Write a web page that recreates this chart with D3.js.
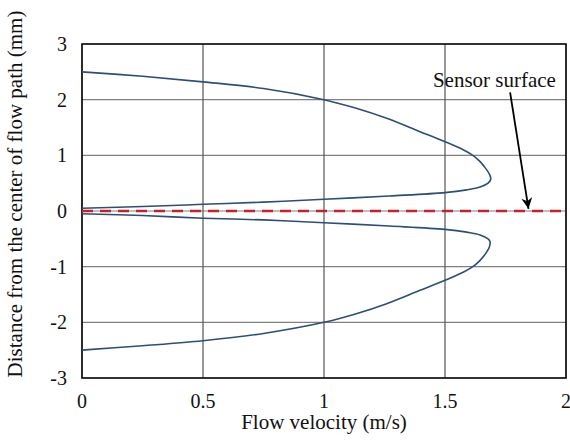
<!DOCTYPE html>
<html lang="en">
  <head>
    <meta charset="utf-8">
    <title>Flow velocity profile</title>
    <style>
      body { margin: 0; background: #fff; }
      text { font-family: "Liberation Serif", "Times New Roman", serif; fill: #111; }
    </style>
  </head>
  <body>
  <script src="https://d3js.org/d3.v7.min.js"></script>
  <div id="chart"></div>

  <script>

  // tick labels
  var xTicks = [0, 0.5, 1, 1.5, 2];
  var yTicks = [-3, -2, -1, 0, 1, 2, 3];

  // upper half of the flow path: distance (mm) vs velocity (m/s)
  var upperDistance = [0.05, 0.08, 0.12, 0.16, 0.21, 0.27, 0.33, 0.38, 0.43, 0.5, 0.57, 0.65, 0.8, 0.9, 1.0, 1.1, 1.245, 1.425, 1.665, 1.85, 2.0, 2.2, 2.32, 2.42, 2.5];
  var upperVelocity = [0, 0.25, 0.5, 0.75, 1.0, 1.27, 1.5, 1.59, 1.645, 1.678, 1.689, 1.685, 1.662, 1.642, 1.615, 1.575, 1.5, 1.397, 1.259, 1.13, 1.0, 0.75, 0.5, 0.25, 0];

  // lower half of the flow path
  var lowerDistance = [-2.5, -2.42, -2.33, -2.2, -2.0, -1.85, -1.665, -1.425, -1.245, -1.1, -1.0, -0.9, -0.8, -0.65, -0.55, -0.5, -0.43, -0.38, -0.33, -0.27, -0.21, -0.16, -0.13, -0.08, -0.05];
  var lowerVelocity = [0, 0.25, 0.5, 0.75, 1.0, 1.13, 1.259, 1.397, 1.5, 1.575, 1.615, 1.642, 1.662, 1.683, 1.686, 1.678, 1.645, 1.59, 1.5, 1.27, 1.0, 0.75, 0.5, 0.25, 0];

  var sensorSurface = 0;

  var width = 570, height = 442;
  var margin = {top: 44, right: 4, bottom: 64, left: 82};

  var svg = d3.select("#chart")
    .append("svg")
      .attr("width", width)
      .attr("height", height);

  var x = d3.scaleLinear().domain([0, 2]).range([margin.left, width - margin.right]);
  var y = d3.scaleLinear().domain([-3, 3]).range([height - margin.bottom, margin.top]);

  // grid
  svg.append("g")
    .selectAll("line")
    .data(yTicks)
    .enter()
    .append("line")
      .attr("x1", x(0)).attr("x2", x(2))
      .attr("y1", function(d){ return y(d) }).attr("y2", function(d){ return y(d) })
      .attr("stroke", "#808080")
      .attr("stroke-width", 1.2)

  svg.append("g")
    .selectAll("line")
    .data(xTicks)
    .enter()
    .append("line")
      .attr("x1", function(d){ return x(d) }).attr("x2", function(d){ return x(d) })
      .attr("y1", y(-3)).attr("y2", y(3))
      .attr("stroke", "#555")
      .attr("stroke-width", 1.2)

  // frame
  svg.append("rect")
    .attr("x", x(0)).attr("y", y(3))
    .attr("width", x(2) - x(0)).attr("height", y(-3) - y(3))
    .attr("fill", "none")
    .attr("stroke", "#111")
    .attr("stroke-width", 1.6)

  // tick labels
  svg.append("g")
    .selectAll("text")
    .data(xTicks)
    .enter()
    .append("text")
      .attr("x", function(d){ return x(d) })
      .attr("y", y(-3) + 30)
      .attr("text-anchor", "middle")
      .attr("font-size", "20px")
      .text(function(d){ return d })

  svg.append("g")
    .selectAll("text")
    .data(yTicks)
    .enter()
    .append("text")
      .attr("x", x(0) - 15)
      .attr("y", function(d){ return y(d) + 7 })
      .attr("text-anchor", "end")
      .attr("font-size", "20px")
      .text(function(d){ return d < 0 ? "-" + Math.abs(d) : d })

  // axis titles
  svg.append("text")
    .attr("x", (x(0) + x(2)) / 2)
    .attr("y", 429)
    .attr("text-anchor", "middle")
    .attr("font-size", "21px")
    .text("Flow velocity (m/s)")

  svg.append("text")
    .attr("transform", "translate(22," + 194 + ") rotate(-90)")
    .attr("text-anchor", "middle")
    .attr("font-size", "21px")
    .text("Distance from the center of flow path (mm)")

  // sensor surface
  svg.append("line")
    .attr("x1", x(0)).attr("x2", x(2))
    .attr("y1", y(sensorSurface)).attr("y2", y(sensorSurface))
    .attr("stroke", "#c8202a")
    .attr("stroke-width", 2.6)
    .attr("stroke-dasharray", "11,7")

  // velocity profiles
  var line = d3.line()
    .x(function(d){ return x(d[1]) })
    .y(function(d){ return y(d[0]) })
    .curve(d3.curveCatmullRom.alpha(0.5))

  svg.append("path")
    .datum(d3.zip(upperDistance, upperVelocity))
    .attr("d", line)
    .attr("fill", "none")
    .attr("stroke", "#2b4f78")
    .attr("stroke-width", 1.6)

  svg.append("path")
    .datum(d3.zip(lowerDistance, lowerVelocity))
    .attr("d", line)
    .attr("fill", "none")
    .attr("stroke", "#2b4f78")
    .attr("stroke-width", 1.6)

  // annotation
  svg.append("defs").append("marker")
    .attr("id", "arrow")
    .attr("viewBox", "0 0 10 10")
    .attr("refX", 10).attr("refY", 5)
    .attr("markerWidth", 14).attr("markerHeight", 11)
    .attr("markerUnits", "userSpaceOnUse")
    .attr("orient", "auto")
    .append("path")
      .attr("d", "M0,0 L10,5 L0,10 L3,5 Z")
      .attr("fill", "#000")

  svg.append("text")
    .attr("x", x(1.45))
    .attr("y", y(2.23))
    .attr("font-size", "21px")
    .text("Sensor surface")

  svg.append("line")
    .attr("x1", x(1.769)).attr("y1", y(2.13))
    .attr("x2", x(1.845)).attr("y2", y(0.04))
    .attr("stroke", "#000")
    .attr("stroke-width", 1.8)
    .attr("marker-end", "url(#arrow)")

  </script>
  </body>
</html>
